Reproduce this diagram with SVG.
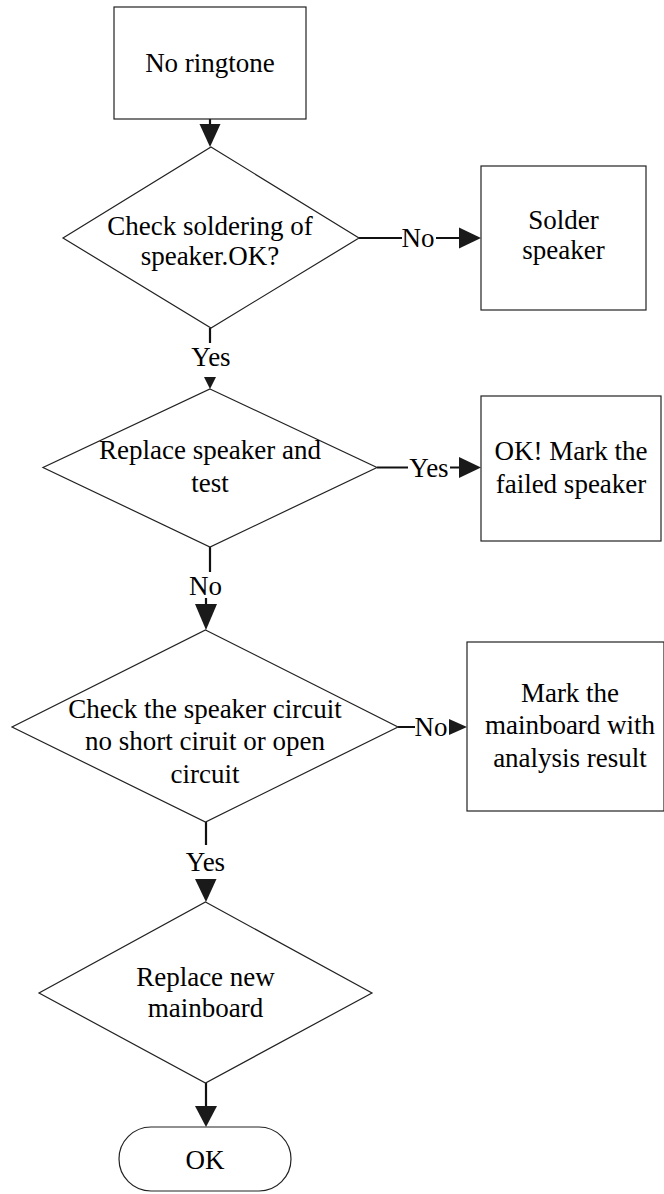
<svg xmlns="http://www.w3.org/2000/svg" width="664" height="1194" viewBox="0 0 664 1194">
<style>
.shape{fill:#fff;stroke:#222;stroke-width:1.2}
.t{font-family:"Liberation Serif","Times New Roman",serif;font-size:27px;fill:#000;text-anchor:middle}
.ln{fill:none;stroke:#111;stroke-width:2.2}
.ah{fill:#1a1a1a;stroke:none}
.bg{fill:#fff}
</style>
<rect width="664" height="1194" fill="#fff"/>
<g id="connectors">
  <line class="ln" x1="210" y1="119" x2="210" y2="126"/>
  <polygon class="ah" points="199.5,124 220.5,124 210,147"/>
  <line class="ln" x1="359" y1="238" x2="460" y2="238"/>
  <rect class="bg" x="402" y="225" width="34" height="24"/>
  <text class="t" x="418" y="247">No</text>
  <polygon class="ah" points="459,227.5 481,238 459,248.5"/>
  <line class="ln" x1="210" y1="328" x2="210" y2="343"/>
  <text class="t" x="211" y="366">Yes</text>
  <polygon class="ah" points="204,377 216,377 210,389"/>
  <line class="ln" x1="377" y1="467.5" x2="460" y2="467.5"/>
  <rect class="bg" x="408" y="454" width="42" height="24"/>
  <text class="t" x="429" y="477">Yes</text>
  <polygon class="ah" points="459,457 481,467.5 459,478"/>
  <polyline class="ln" points="210,547 210,583 206,583 206,605"/>
  <rect class="bg" x="188" y="572" width="35" height="26"/>
  <text class="t" x="205.5" y="595">No</text>
  <polygon class="ah" points="195,604 217,604 206,630"/>
  <line class="ln" x1="398" y1="727" x2="450" y2="727"/>
  <rect class="bg" x="415" y="714" width="34" height="24"/>
  <text class="t" x="431" y="736">No</text>
  <polygon class="ah" points="449,719 467,727 449,735"/>
  <line class="ln" x1="206" y1="822" x2="206" y2="845"/>
  <text class="t" x="205.5" y="871">Yes</text>
  <polygon class="ah" points="195,879 216.5,879 206,902"/>
  <line class="ln" x1="206" y1="1083" x2="206" y2="1108"/>
  <polygon class="ah" points="195,1106 217,1106 206,1127"/>
</g>
<g id="n_start">
  <rect class="shape" x="114" y="7" width="192" height="112"/>
  <text class="t" x="210" y="72">No ringtone</text>
</g>
<g id="n_check_solder">
  <polygon class="shape" points="211,147 359,238 211,328 63,238"/>
  <text class="t" x="210" y="235">Check soldering of</text>
  <text class="t" x="210" y="265">speaker.OK?</text>
</g>
<g id="n_solder">
  <rect class="shape" x="481" y="166" width="165" height="144"/>
  <text class="t" x="563.5" y="229">Solder</text>
  <text class="t" x="563.5" y="259">speaker</text>
</g>
<g id="n_replace_speaker">
  <polygon class="shape" points="210,389 377,467.5 210,547 43,467.5"/>
  <text class="t" x="210" y="459">Replace speaker and</text>
  <text class="t" x="210" y="492">test</text>
</g>
<g id="n_mark_speaker">
  <rect class="shape" x="481" y="396" width="180" height="145"/>
  <text class="t" x="571" y="460">OK! Mark the</text>
  <text class="t" x="571" y="493">failed speaker</text>
</g>
<g id="n_check_circuit">
  <polygon class="shape" points="205.5,630 398,727 205.5,822 12,727"/>
  <text class="t" x="205" y="718">Check the speaker circuit</text>
  <text class="t" x="205" y="750">no short ciruit or open</text>
  <text class="t" x="205" y="783">circuit</text>
</g>
<g id="n_mark_mainboard">
  <rect class="shape" x="467" y="642" width="197" height="169"/>
  <text class="t" x="570" y="702">Mark the</text>
  <text class="t" x="570" y="734">mainboard with</text>
  <text class="t" x="570" y="767">analysis result</text>
</g>
<g id="n_replace_mainboard">
  <polygon class="shape" points="205.5,902 372,993 205.5,1083 39,993"/>
  <text class="t" x="205.5" y="986">Replace new</text>
  <text class="t" x="205.5" y="1017">mainboard</text>
</g>
<g id="n_ok">
  <rect class="shape" x="119" y="1127" width="172" height="64" rx="32" ry="32"/>
  <text class="t" x="205" y="1169">OK</text>
</g>
</svg>
